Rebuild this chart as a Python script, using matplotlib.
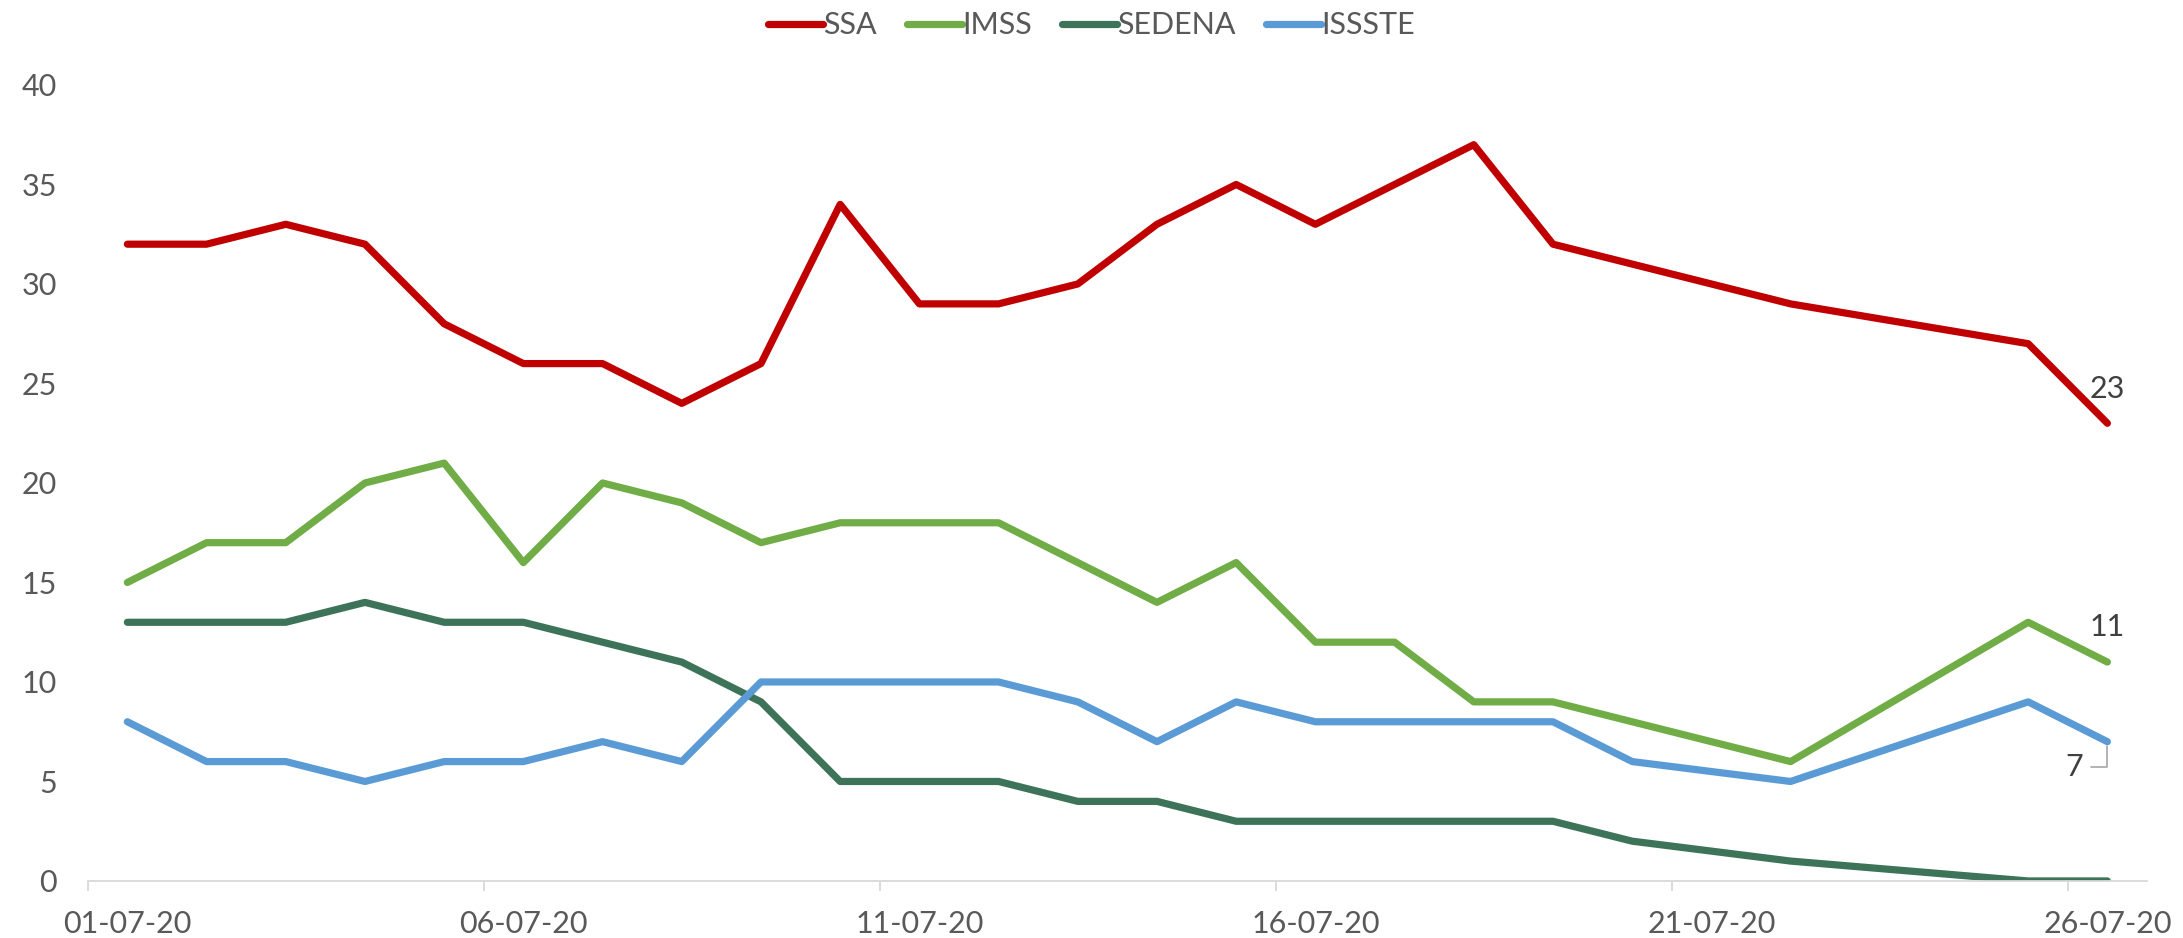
import matplotlib.pyplot as plt
import matplotlib.dates as mdates
import pandas as pd

# ==============================
# Data
# ==============================
fechas = ["2020-07-01", "2020-07-02", "2020-07-03", "2020-07-04", "2020-07-05",
          "2020-07-06", "2020-07-07", "2020-07-08", "2020-07-09", "2020-07-10",
          "2020-07-11", "2020-07-12", "2020-07-13", "2020-07-14", "2020-07-15",
          "2020-07-16", "2020-07-17", "2020-07-18", "2020-07-19", "2020-07-20",
          "2020-07-22", "2020-07-25", "2020-07-26"]

ssa = [32, 32, 33, 32, 28, 26, 26, 24, 26, 34, 29, 29, 30, 33, 35, 33, 35, 37, 32, 31, 29, 27, 23]
imss = [15, 17, 17, 20, 21, 16, 20, 19, 17, 18, 18, 18, 16, 14, 16, 12, 12, 9, 9, 8, 6, 13, 11]
sedena = [13, 13, 13, 14, 13, 13, 12, 11, 9, 5, 5, 5, 4, 4, 3, 3, 3, 3, 3, 2, 1, 0, 0]
issste = [8, 6, 6, 5, 6, 6, 7, 6, 10, 10, 10, 10, 9, 7, 9, 8, 8, 8, 8, 6, 5, 9, 7]

series = [("SSA", ssa, "#C00000"),
          ("IMSS", imss, "#70AD47"),
          ("SEDENA", sedena, "#3D7358"),
          ("ISSSTE", issste, "#5B9BD5")]

tick_fechas = ["2020-07-01", "2020-07-06", "2020-07-11", "2020-07-16", "2020-07-21", "2020-07-26"]

# ==============================
# Setup
# ==============================
plt.rcParams["font.family"] = ["Lato", "DejaVu Sans"]
gris = "#595959"

fig = plt.figure(figsize=(21.83, 9.38), dpi=100)
ax = fig.add_axes([0.0402, 0.0608, 0.9433, 0.8486])

# points sit in the middle of each day (Excel date axis, between tick marks)
x = pd.to_datetime(fechas) + pd.Timedelta(hours=12)

for name, vals, col in series:
    ax.plot(x, vals, color=col, lw=5.2, label=name,
            solid_capstyle="round", solid_joinstyle="round")

# ==============================
# Axes
# ==============================
ax.set_ylim(0, 40)
ax.set_yticks(range(0, 41, 5))
ax.set_xlim(pd.Timestamp("2020-07-01"), pd.Timestamp("2020-07-27"))

ticks = pd.to_datetime(tick_fechas)
ax.set_xticks(ticks)
ax.set_xticklabels([])
ax.set_xticks(ticks + pd.Timedelta(hours=12), minor=True)
ax.xaxis.set_minor_formatter(mdates.DateFormatter("%d-%m-%y"))

ax.tick_params(axis="x", which="major", length=7, width=1.3, color="#D9D9D9")
ax.tick_params(axis="x", which="minor", length=0, pad=21, labelsize=22, labelcolor=gris)
ax.tick_params(axis="y", length=0, pad=22, labelsize=22, labelcolor=gris)

for s in ["top", "right", "left"]:
    ax.spines[s].set_visible(False)
ax.spines["bottom"].set_color("#D9D9D9")
ax.spines["bottom"].set_linewidth(1.3)

# ==============================
# Data labels on last point
# ==============================
ax.annotate(str(ssa[-1]), (x[-1], ssa[-1]), xytext=(0, 25), textcoords="offset points",
            ha="center", va="center", fontsize=22, color="#404040")
ax.annotate(str(imss[-1]), (x[-1], imss[-1]), xytext=(0, 25), textcoords="offset points",
            ha="center", va="center", fontsize=22, color="#404040")
ax.annotate(str(issste[-1]), (x[-1], issste[-1]), xytext=(-24, -18), textcoords="offset points",
            ha="center", va="center", fontsize=22, color="#404040",
            arrowprops=dict(arrowstyle="-", color="#A6A6A6", lw=1.2,
                            connectionstyle="angle,angleA=0,angleB=90",
                            relpos=(1.0, 0.5), shrinkA=4, shrinkB=3))

# ==============================
# Legend
# ==============================
fig.legend(loc="center", bbox_to_anchor=(0.5, 0.973), ncol=4, frameon=False,
           fontsize=22, labelcolor=gris, handlelength=1.8, handletextpad=0.0,
           columnspacing=1.0)

fig.savefig("out.png", dpi=100)
